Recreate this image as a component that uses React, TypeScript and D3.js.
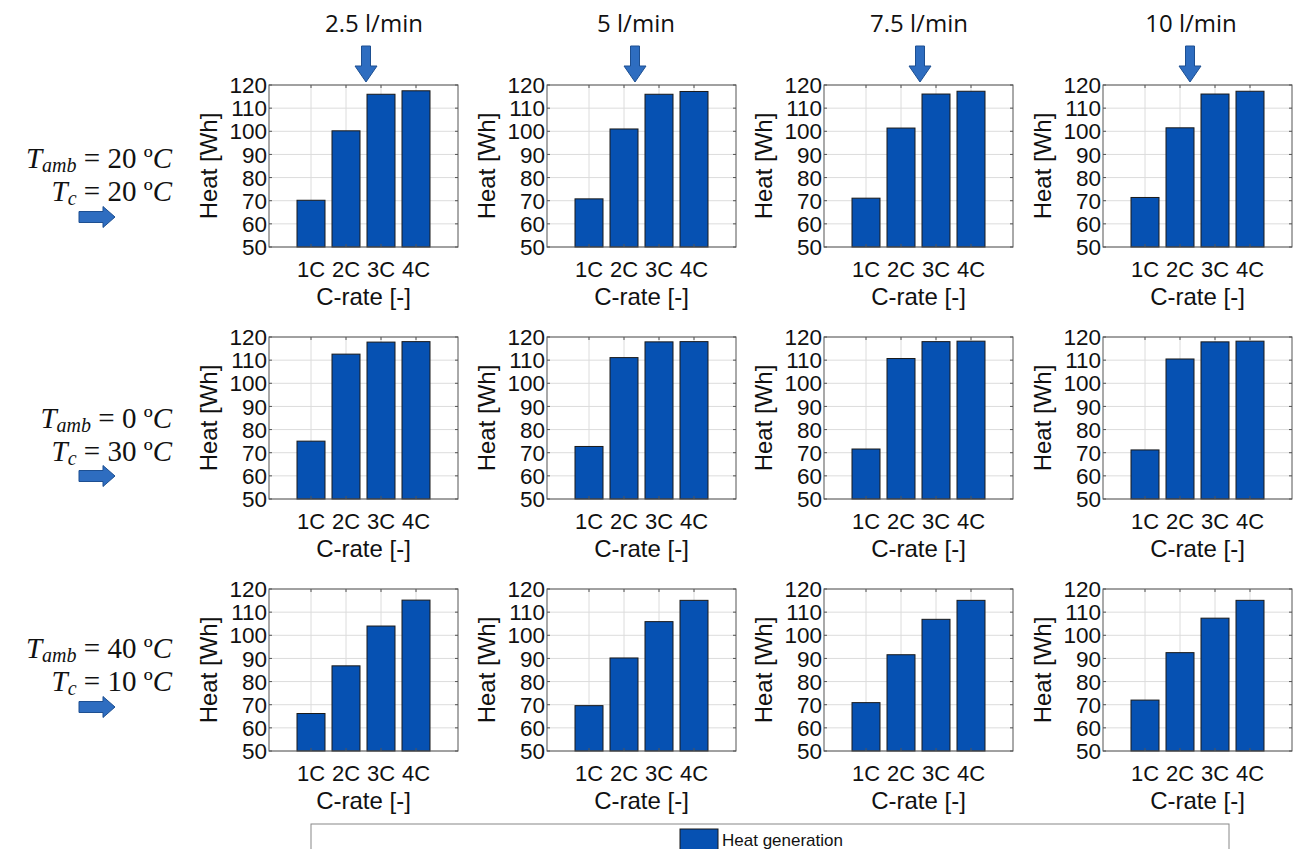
import React from "react";
import * as d3 from "d3";

// ---- data ----
const flowRates = ["2.5 l/min", "5 l/min", "7.5 l/min", "10 l/min"];
const categories = ["1C", "2C", "3C", "4C"];
const yTicks = [50, 60, 70, 80, 90, 100, 110, 120];
const tAmb = [20, 0, 40];
const tC = [20, 30, 10];
// heat [Wh] per row (condition) -> per column (flow rate) -> per C-rate
const heatRow1 = [
  [70.2, 100.2, 116.0, 117.5],
  [70.8, 101.0, 116.0, 117.2],
  [71.1, 101.4, 116.1, 117.3],
  [71.4, 101.5, 116.1, 117.3],
];
const heatRow2 = [
  [75.0, 112.6, 117.8, 118.0],
  [72.7, 111.1, 117.9, 118.0],
  [71.6, 110.7, 118.0, 118.2],
  [71.2, 110.5, 117.9, 118.2],
];
const heatRow3 = [
  [66.2, 86.8, 104.0, 115.2],
  [69.6, 90.2, 105.9, 115.1],
  [70.9, 91.6, 106.9, 115.1],
  [72.0, 92.5, 107.4, 115.1],
];
const heatRows = [heatRow1, heatRow2, heatRow3];
const legendLabel = "Heat generation";

// ---- layout ----
const W = 1296;
const H = 849;
const colLeft = [269, 547, 824, 1103];
const rowTop = [85, 337, 589];
const pw = 189;
const ph = 162;
const titleX = [374, 636, 919, 1191];
const arrowX = [366, 635, 920, 1190];
const rowLabelY = [168, 428, 658];
const rowArrowY = [217, 476, 707];
const BAR = "#0651B2";
const ARROW = "#2E6DC0";
const sans = "'Liberation Sans', Arial, sans-serif";
const serif = "'Liberation Serif', 'Times New Roman', serif";

function Panel({ x0, y0, values }: { x0: number; y0: number; values: number[] }) {
  const x = d3.scaleBand<string>().domain(categories).range([x0, x0 + pw]).paddingInner(0.2).paddingOuter(0.8);
  const y = d3.scaleLinear().domain([50, 120]).range([y0 + ph, y0]);
  const bw = x.bandwidth();
  return (
    <g>
      <rect x={x0} y={y0} width={pw} height={ph} fill="#fff" />
      {yTicks.map((t) => (
        <line key={"gy" + t} x1={x0} x2={x0 + pw} y1={y(t)} y2={y(t)} stroke="#dcdcdc" strokeWidth={1} />
      ))}
      {categories.map((c) => (
        <line key={"gx" + c} x1={x(c)! + bw / 2} x2={x(c)! + bw / 2} y1={y0} y2={y0 + ph} stroke="#dcdcdc" strokeWidth={1} />
      ))}
      {categories.map((c, i) => (
        <rect key={"b" + c} x={x(c)!} y={y(values[i])} width={bw} height={y(50) - y(values[i])} fill={BAR} stroke="#1a1a1a" strokeWidth={1} />
      ))}
      {yTicks.map((t) => (
        <g key={"ty" + t}>
          <line x1={x0} x2={x0 + 3} y1={y(t)} y2={y(t)} stroke="#555" />
          <line x1={x0 + pw - 3} x2={x0 + pw} y1={y(t)} y2={y(t)} stroke="#555" />
          <text x={x0 - 2} y={y(t)} dy="0.36em" textAnchor="end" fontFamily={sans} fontSize={22.5} fill="#111">{t}</text>
        </g>
      ))}
      {categories.map((c) => (
        <g key={"tx" + c}>
          <line x1={x(c)! + bw / 2} x2={x(c)! + bw / 2} y1={y0} y2={y0 + 3} stroke="#555" />
          <line x1={x(c)! + bw / 2} x2={x(c)! + bw / 2} y1={y0 + ph - 3} y2={y0 + ph} stroke="#555" />
          <text x={x(c)! + bw / 2} y={y0 + ph + 30} textAnchor="middle" fontFamily={sans} fontSize={22} fill="#111">{c}</text>
        </g>
      ))}
      <rect x={x0} y={y0} width={pw} height={ph} fill="none" stroke="#555" strokeWidth={1} />
      <text x={x0 + pw / 2} y={y0 + ph + 58} textAnchor="middle" fontFamily={sans} fontSize={24} fill="#111">C-rate [-]</text>
      <text transform={`translate(${x0 - 52},${y0 + ph / 2}) rotate(-90)`} textAnchor="middle" fontFamily={sans} fontSize={24} fill="#111">Heat [Wh]</text>
    </g>
  );
}

function DownArrow({ cx }: { cx: number }) {
  const p = `M${cx - 4.5},46 L${cx + 4.5},46 L${cx + 4.5},66 L${cx + 11},66 L${cx},82 L${cx - 11},66 L${cx - 4.5},66 Z`;
  return <path d={p} fill={ARROW} stroke="#1d4f91" strokeWidth={1} />;
}

function RightArrow({ x0, cy }: { x0: number; cy: number }) {
  const p = `M${x0},${cy - 5.5} L${x0 + 24},${cy - 5.5} L${x0 + 24},${cy - 10.5} L${x0 + 36},${cy} L${x0 + 24},${cy + 10.5} L${x0 + 24},${cy + 5.5} L${x0},${cy + 5.5} Z`;
  return <path d={p} fill={ARROW} stroke="#1d4f91" strokeWidth={1} />;
}

export default function App() {
  return (
    <svg width={W} height={H} style={{ position: "absolute", left: 0, top: 0, background: "#fff" }}>
      <rect width={W} height={H} fill="#fff" />
      {flowRates.map((f, j) => (
        <g key={f}>
          <text x={titleX[j]} y={32} textAnchor="middle" fontFamily="'Open Sans', sans-serif" fontSize={24} fill="#111">{f}</text>
          <DownArrow cx={arrowX[j]} />
        </g>
      ))}
      {heatRows.map((row, r) =>
        row.map((vals, j) => <Panel key={r + "-" + j} x0={colLeft[j]} y0={rowTop[r]} values={vals} />)
      )}
      {tAmb.map((ta, r) => (
        <g key={"lab" + r} fontFamily={serif} fontSize={29} fill="#111">
          <text x={172} y={rowLabelY[r]} textAnchor="end">
            <tspan fontStyle="italic">T</tspan>
            <tspan fontStyle="italic" fontSize={20} dy={4}>amb</tspan>
            <tspan dy={-4}>{` = ${ta} º`}</tspan>
            <tspan fontStyle="italic">C</tspan>
          </text>
          <text x={172} y={rowLabelY[r] + 33} textAnchor="end">
            <tspan fontStyle="italic">T</tspan>
            <tspan fontStyle="italic" fontSize={20} dy={4}>c</tspan>
            <tspan dy={-4}>{` = ${tC[r]} º`}</tspan>
            <tspan fontStyle="italic">C</tspan>
          </text>
          <RightArrow x0={79} cy={rowArrowY[r]} />
        </g>
      ))}
      <rect x={311} y={824} width={918} height={40} fill="#fff" stroke="#888" strokeWidth={1} />
      <rect x={680} y={829} width={38} height={22} fill={BAR} stroke="#1a1a1a" strokeWidth={1} />
      <text x={722} y={846} fontFamily={sans} fontSize={17} fill="#111">{legendLabel}</text>
    </svg>
  );
}
